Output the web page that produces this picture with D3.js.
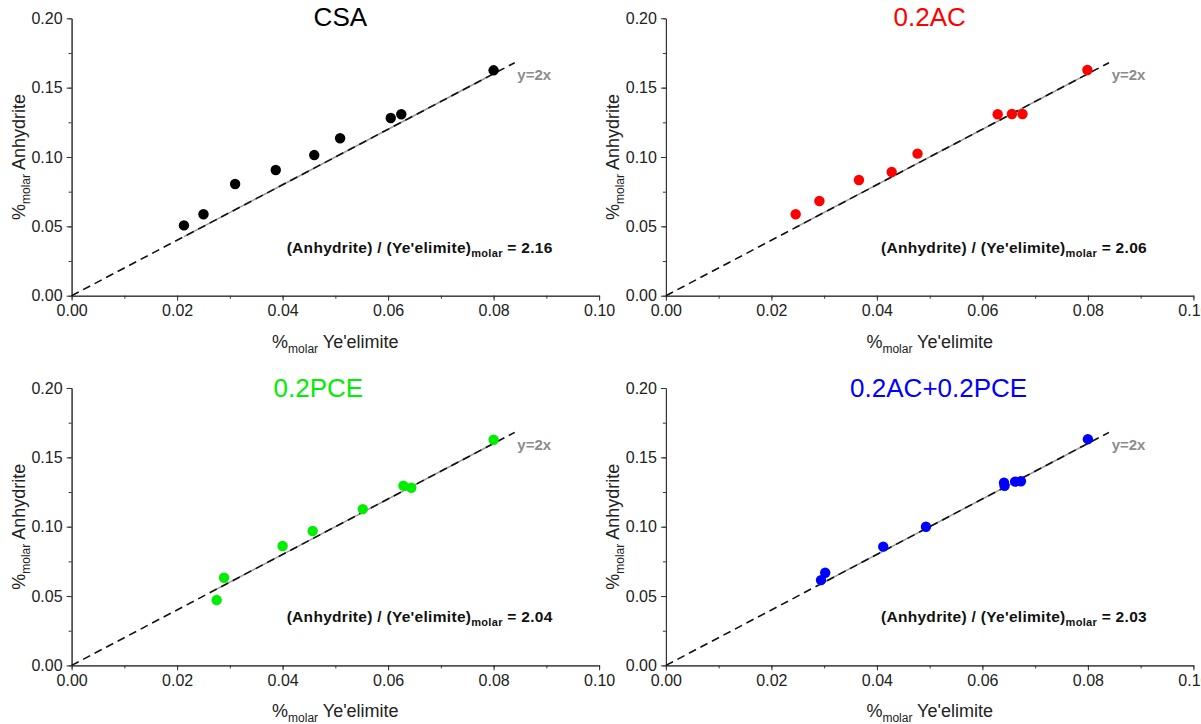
<!DOCTYPE html>
<html>
<head>
<meta charset="utf-8">
<script src="https://cdn.jsdelivr.net/npm/d3@7"></script>
<style>
  body { margin: 0; background: #fff; }
  svg { display: block; font-family: "Liberation Sans", Arial, sans-serif; }
  .axis path, .axis line { stroke: #333; stroke-width: 1; }
  .axis text { font-size: 16px; fill: #222; }
</style>
</head>
<body>
<script>
// values
const csaX = [0.0213, 0.0250, 0.0310, 0.0387, 0.0460, 0.0509, 0.0605, 0.0625, 0.0800];
const csaY = [0.0507, 0.0587, 0.0805, 0.0906, 0.1014, 0.1135, 0.1281, 0.1308, 0.1625];
const acX = [0.0246, 0.0291, 0.0366, 0.0428, 0.0477, 0.0629, 0.0656, 0.0676, 0.0799];
const acY = [0.0587, 0.0683, 0.0834, 0.0892, 0.1024, 0.1308, 0.1310, 0.1310, 0.1627];
const pceX = [0.0275, 0.0289, 0.0400, 0.0457, 0.0552, 0.0629, 0.0644, 0.0800];
const pceY = [0.0471, 0.0632, 0.0861, 0.0969, 0.1127, 0.1296, 0.1281, 0.1627];
const acPceX = [0.0294, 0.0302, 0.0412, 0.0493, 0.0641, 0.0642, 0.0662, 0.0673, 0.0800];
const acPceY = [0.0615, 0.0668, 0.0856, 0.1000, 0.1317, 0.1295, 0.1325, 0.1328, 0.1631];

const titles = ['CSA', '0.2AC', '0.2PCE', '0.2AC+0.2PCE'];
const ratios = ['2.16', '2.06', '2.04', '2.03'];
const colors = ['#000000', '#ff0000', '#00ee00', '#0000ff'];

const xTicks = [0, 0.02, 0.04, 0.06, 0.08, 0.10];
const yTicks = [0, 0.05, 0.10, 0.15, 0.20];
const refSlope = 2; // y=2x guide line
const refEnd = 0.084;

const seriesX = [csaX, acX, pceX, acPceX];
const seriesY = [csaY, acY, pceY, acPceY];

const W = 1201, H = 724;
const plotW = 527.5, plotH = 277.4;
const lefts = [71.6, 665.9];
const tops = [18.3, 388];

const svg = d3.select('body').append('svg')
  .attr('width', W)
  .attr('height', H);

titles.forEach((title, i) => {
  const col = i % 2, row = Math.floor(i / 2);
  const g = svg.append('g')
    .attr('transform', `translate(${lefts[col]},${tops[row]})`);

  const x = d3.scaleLinear().domain([0, 0.10]).range([0, plotW]);
  const y = d3.scaleLinear().domain([0, 0.20]).range([plotH, 0]);

  // minor ticks
  g.append('g').attr('class', 'axis')
    .attr('transform', `translate(0,${plotH})`)
    .call(d3.axisBottom(x).tickValues(d3.range(0, 0.1001, 0.01)).tickFormat('').tickSize(3).tickSizeOuter(0));
  g.append('g').attr('class', 'axis')
    .call(d3.axisLeft(y).tickValues(d3.range(0, 0.2001, 0.025)).tickFormat('').tickSize(3).tickSizeOuter(0));

  // major ticks + labels
  g.append('g').attr('class', 'axis')
    .attr('transform', `translate(0,${plotH})`)
    .call(d3.axisBottom(x).tickValues(xTicks).tickFormat(d3.format('.2f')).tickSize(5).tickPadding(4).tickSizeOuter(0));
  g.append('g').attr('class', 'axis')
    .call(d3.axisLeft(y).tickValues(yTicks).tickFormat(d3.format('.2f')).tickSize(5).tickPadding(4).tickSizeOuter(0));

  // grey reference line over the data range, dashed y=2x on top
  const xs = seriesX[i];
  const ext = d3.extent(xs);
  const line = d3.line().x(d => x(d)).y(d => y(refSlope * d));
  g.append('path')
    .datum(ext)
    .attr('d', line)
    .attr('fill', 'none')
    .attr('stroke', '#999')
    .attr('stroke-width', 1.5);
  g.append('path')
    .datum([0, refEnd])
    .attr('d', line)
    .attr('fill', 'none')
    .attr('stroke', '#111')
    .attr('stroke-width', 1.6)
    .attr('stroke-dasharray', '8,5');

  // points
  g.selectAll('.dot')
    .data(xs.map((v, k) => ({ x: v, y: seriesY[i][k] })))
    .enter()
    .append('circle')
    .attr('class', 'dot')
    .attr('cx', d => x(d.x))
    .attr('cy', d => y(d.y))
    .attr('r', 5.2)
    .attr('fill', colors[i]);

  // y=2x label
  g.append('text')
    .attr('x', x(0.0845))
    .attr('y', y(0.1555))
    .attr('font-size', 15)
    .attr('font-weight', 'bold')
    .attr('fill', '#8c8c8c')
    .text('y=2x');

  // ratio annotation
  const ann = g.append('text')
    .attr('x', x(0.0912))
    .attr('y', y(0.031))
    .attr('text-anchor', 'end')
    .attr('font-size', 15.5)
    .attr('letter-spacing', 0.3)
    .attr('font-weight', 'bold')
    .attr('fill', '#111');
  ann.append('tspan').text("(Anhydrite) / (Ye'elimite)");
  ann.append('tspan').attr('font-size', 11).attr('dy', 4).text('molar');
  ann.append('tspan').attr('dy', -4).text(' = ' + ratios[i]);

  // title
  g.append('text')
    .attr('x', plotW / 2 + (i === 0 ? 5 : i === 2 ? -17 : i === 3 ? 9 : 0))
    .attr('y', 8 + (row ? 1 : 0))
    .attr('text-anchor', 'middle')
    .attr('font-size', 26)
    .attr('fill', colors[i])
    .text(title);

  // x axis title
  const xt = g.append('text')
    .attr('x', plotW / 2)
    .attr('y', plotH + 52)
    .attr('text-anchor', 'middle')
    .attr('font-size', 18)
    .attr('fill', '#222');
  xt.append('tspan').text('%');
  xt.append('tspan').attr('font-size', 12).attr('dy', 5).text('molar');
  xt.append('tspan').attr('dy', -5).text(" Ye'elimite");

  // y axis title
  const yt = g.append('text')
    .attr('transform', `translate(-47,${plotH / 2}) rotate(-90)`)
    .attr('text-anchor', 'middle')
    .attr('font-size', 18)
    .attr('fill', '#222');
  yt.append('tspan').text('%');
  yt.append('tspan').attr('font-size', 12).attr('dy', 5).text('molar');
  yt.append('tspan').attr('dy', -5).text(' Anhydrite');
});
</script>
</body>
</html>
